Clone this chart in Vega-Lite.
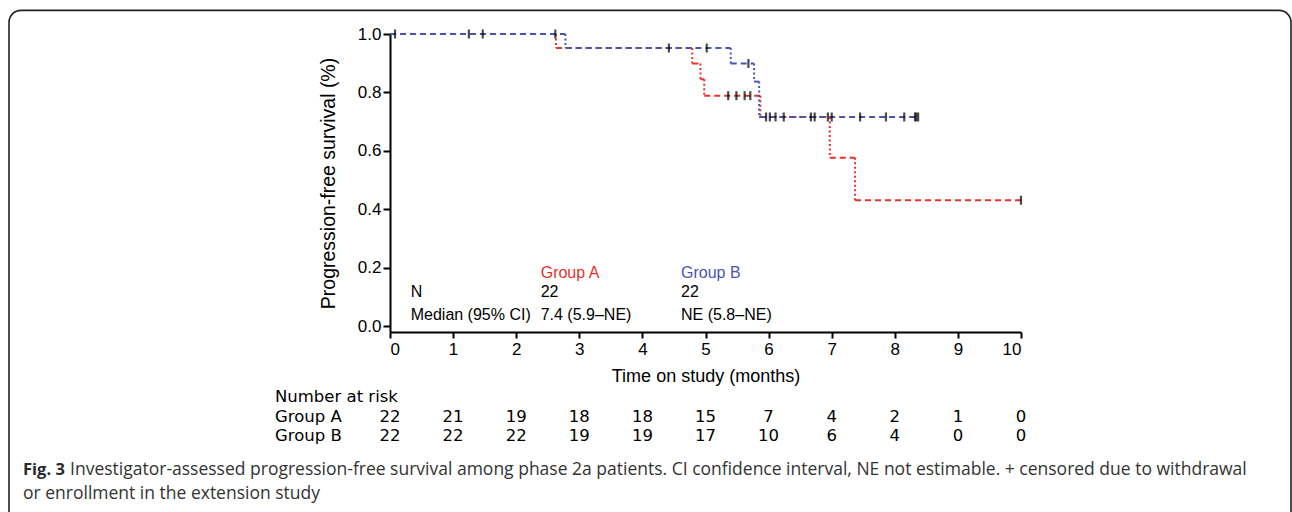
{
  "$schema": "https://vega.github.io/schema/vega-lite/v6.json",
  "width": 631,
  "height": 298,
  "autosize": {"type": "none"},
  "padding": {"left": 390, "top": 34, "right": 271, "bottom": 180},
  "background": "white",
  "config": {
    "view": {"stroke": null},
    "font": "Liberation Sans",
    "axis": {"grid": false, "domainColor": "black", "tickColor": "black", "domainWidth": 2, "tickWidth": 2, "labelColor": "black", "titleColor": "black", "labelFont": "Liberation Sans", "titleFont": "Liberation Sans", "titleFontWeight": "normal"}
  },
  "datasets": {
    "steps": [
      {"group": "Group A", "start": 0, "end": 2.63, "surv": 1.0},
      {"group": "Group A", "start": 2.63, "end": 4.79, "surv": 0.952},
      {"group": "Group A", "start": 4.79, "end": 4.92, "surv": 0.899},
      {"group": "Group A", "start": 4.92, "end": 4.98, "surv": 0.845},
      {"group": "Group A", "start": 4.98, "end": 5.87, "surv": 0.789},
      {"group": "Group A", "start": 5.87, "end": 6.97, "surv": 0.716},
      {"group": "Group A", "start": 6.97, "end": 7.37, "surv": 0.576},
      {"group": "Group A", "start": 7.37, "end": 10.0, "surv": 0.431},
      {"group": "Group B", "start": 0, "end": 2.78, "surv": 1.0},
      {"group": "Group B", "start": 2.78, "end": 5.40, "surv": 0.952},
      {"group": "Group B", "start": 5.40, "end": 5.77, "surv": 0.899},
      {"group": "Group B", "start": 5.77, "end": 5.85, "surv": 0.837},
      {"group": "Group B", "start": 5.85, "end": 8.37, "surv": 0.716}
    ],
    "censors": [
      {"group": "Group A", "time": 0.08, "surv": 1.0},
      {"group": "Group A", "time": 1.25, "surv": 1.0},
      {"group": "Group A", "time": 1.47, "surv": 1.0},
      {"group": "Group B", "time": 2.62, "surv": 1.0},
      {"group": "Group B", "time": 4.42, "surv": 0.952},
      {"group": "Group B", "time": 5.02, "surv": 0.952},
      {"group": "Group B", "time": 5.68, "surv": 0.899},
      {"group": "Group A", "time": 5.36, "surv": 0.789},
      {"group": "Group A", "time": 5.49, "surv": 0.789},
      {"group": "Group A", "time": 5.62, "surv": 0.789},
      {"group": "Group A", "time": 5.71, "surv": 0.789},
      {"group": "Group A", "time": 5.96, "surv": 0.716},
      {"group": "Group B", "time": 6.02, "surv": 0.716},
      {"group": "Group A", "time": 6.11, "surv": 0.716},
      {"group": "Group B", "time": 6.24, "surv": 0.716},
      {"group": "Group A", "time": 6.67, "surv": 0.716},
      {"group": "Group B", "time": 6.73, "surv": 0.716},
      {"group": "Group A", "time": 6.94, "surv": 0.716},
      {"group": "Group B", "time": 7.0, "surv": 0.716},
      {"group": "Group B", "time": 7.45, "surv": 0.716},
      {"group": "Group B", "time": 7.86, "surv": 0.716},
      {"group": "Group B", "time": 8.15, "surv": 0.716},
      {"group": "Group B", "time": 8.32, "surv": 0.716},
      {"group": "Group B", "time": 8.34, "surv": 0.716},
      {"group": "Group B", "time": 8.37, "surv": 0.716},
      {"group": "Group A", "time": 10.0, "surv": 0.431}
    ],
    "risk": [
      {"group": "Group A", "month": 0, "n": 22}, {"group": "Group A", "month": 1, "n": 21}, {"group": "Group A", "month": 2, "n": 19},
      {"group": "Group A", "month": 3, "n": 18}, {"group": "Group A", "month": 4, "n": 18}, {"group": "Group A", "month": 5, "n": 15},
      {"group": "Group A", "month": 6, "n": 7}, {"group": "Group A", "month": 7, "n": 4}, {"group": "Group A", "month": 8, "n": 2},
      {"group": "Group A", "month": 9, "n": 1}, {"group": "Group A", "month": 10, "n": 0},
      {"group": "Group B", "month": 0, "n": 22}, {"group": "Group B", "month": 1, "n": 22}, {"group": "Group B", "month": 2, "n": 22},
      {"group": "Group B", "month": 3, "n": 19}, {"group": "Group B", "month": 4, "n": 19}, {"group": "Group B", "month": 5, "n": 17},
      {"group": "Group B", "month": 6, "n": 10}, {"group": "Group B", "month": 7, "n": 6}, {"group": "Group B", "month": 8, "n": 4},
      {"group": "Group B", "month": 9, "n": 0}, {"group": "Group B", "month": 10, "n": 0}
    ]
  },
  "layer": [
    {
      "data": {"values": [{}]},
      "mark": {"type": "rect", "fill": null, "fillOpacity": 0, "stroke": "#222222", "strokeWidth": 1.6, "cornerRadius": 12, "clip": false},
      "encoding": {
        "x": {"datum": -6.038, "type": "quantitative", "scale": {"domain": [0, 10], "nice": false, "zero": false},
          "axis": {"values": [0, 0.5, 1, 1.5, 2, 2.5, 3, 3.5, 4, 4.5, 5, 5.5, 6, 6.5, 7, 7.5, 8, 8.5, 9, 9.5, 10],
            "labelExpr": "datum.value % 1 === 0 ? format(datum.value, 'd') : ''",
            "tickSize": {"condition": {"test": "datum.value % 1 === 0", "value": 6}, "value": 3},
            "labelFontSize": 17, "labelPadding": 3, "title": "Time on study (months)", "titleFontSize": 18, "titlePadding": 10}},
        "x2": {"datum": 14.279},
        "y": {"datum": 1.081, "type": "quantitative", "scale": {"domain": [-0.02, 1.0], "nice": false, "zero": false},
          "axis": {"values": [0, 0.1, 0.2, 0.3, 0.4, 0.5, 0.6, 0.7, 0.8, 0.9, 1.0],
            "labelExpr": "round(datum.value*10) % 2 === 0 ? format(datum.value, '.1f') : ''",
            "tickSize": {"condition": {"test": "round(datum.value*10) % 2 === 0", "value": 7}, "value": 4},
            "labelFontSize": 17, "labelPadding": 2, "title": "Progression-free survival (%)", "titleFontSize": 19.5, "titlePadding": 19}},
        "y2": {"datum": -0.732}
      }
    },
    {
      "data": {"name": "steps"},
      "mark": {"type": "rule", "strokeWidth": 2, "strokeDash": [6, 4]},
      "encoding": {
        "x": {"field": "start", "type": "quantitative"},
        "x2": {"field": "end"},
        "y": {"field": "surv", "type": "quantitative"},
        "color": {"field": "group", "type": "nominal", "scale": {"domain": ["Group A", "Group B"], "range": ["#e8312a", "#4a54b3"]}, "legend": null}
      }
    },
    {
      "data": {"name": "steps"},
      "transform": [
        {"window": [{"op": "lag", "field": "surv", "as": "prev"}], "groupby": ["group"], "sort": [{"field": "start"}]},
        {"filter": "datum.prev != null"}
      ],
      "mark": {"type": "rule", "strokeWidth": 2, "strokeDash": [2, 2.5]},
      "encoding": {
        "x": {"field": "start", "type": "quantitative"},
        "y": {"field": "prev", "type": "quantitative"},
        "y2": {"field": "surv"},
        "color": {"field": "group", "type": "nominal", "legend": null}
      }
    },
    {
      "data": {"name": "censors"},
      "mark": {"type": "tick", "orient": "vertical", "color": "black", "size": 9, "thickness": 2.2},
      "encoding": {
        "x": {"field": "time", "type": "quantitative"},
        "y": {"field": "surv", "type": "quantitative"}
      }
    },
    {
      "data": {"values": [{}]},
      "mark": {"type": "text", "text": "Group A", "color": "#e8312a", "align": "left", "baseline": "alphabetic", "fontSize": 16},
      "encoding": {"x": {"datum": 2.388}, "y": {"datum": 0.1658}}
    },
    {
      "data": {"values": [{}]},
      "mark": {"type": "text", "text": "Group B", "color": "#4a54b3", "align": "left", "baseline": "alphabetic", "fontSize": 16},
      "encoding": {"x": {"datum": 4.612}, "y": {"datum": 0.1658}}
    },
    {
      "data": {"values": [{}]},
      "mark": {"type": "text", "text": "N", "color": "black", "align": "left", "baseline": "alphabetic", "fontSize": 16},
      "encoding": {"x": {"datum": 0.328}, "y": {"datum": 0.0987}}
    },
    {
      "data": {"values": [{}]},
      "mark": {"type": "text", "text": "22", "color": "black", "align": "left", "baseline": "alphabetic", "fontSize": 16},
      "encoding": {"x": {"datum": 2.388}, "y": {"datum": 0.0987}}
    },
    {
      "data": {"values": [{}]},
      "mark": {"type": "text", "text": "22", "color": "black", "align": "left", "baseline": "alphabetic", "fontSize": 16},
      "encoding": {"x": {"datum": 4.612}, "y": {"datum": 0.0987}}
    },
    {
      "data": {"values": [{}]},
      "mark": {"type": "text", "text": "Median (95% CI)", "color": "black", "align": "left", "baseline": "alphabetic", "fontSize": 16},
      "encoding": {"x": {"datum": 0.328}, "y": {"datum": 0.021}}
    },
    {
      "data": {"values": [{}]},
      "mark": {"type": "text", "text": "7.4 (5.9–NE)", "color": "black", "align": "left", "baseline": "alphabetic", "fontSize": 16},
      "encoding": {"x": {"datum": 2.388}, "y": {"datum": 0.021}}
    },
    {
      "data": {"values": [{}]},
      "mark": {"type": "text", "text": "NE (5.8–NE)", "color": "black", "align": "left", "baseline": "alphabetic", "fontSize": 16},
      "encoding": {"x": {"datum": 4.612}, "y": {"datum": 0.021}}
    },
    {
      "data": {"values": [{}]},
      "mark": {"type": "text", "text": "Number at risk", "color": "black", "align": "left", "baseline": "alphabetic", "fontSize": 16.5, "font": "DejaVu Sans"},
      "encoding": {"x": {"datum": -1.8225}, "y": {"datum": -0.2597}}
    },
    {
      "data": {"values": [{}]},
      "mark": {"type": "text", "text": "Group A", "color": "black", "align": "left", "baseline": "alphabetic", "fontSize": 16.5, "font": "DejaVu Sans"},
      "encoding": {"x": {"datum": -1.8225}, "y": {"datum": -0.3264}}
    },
    {
      "data": {"values": [{}]},
      "mark": {"type": "text", "text": "Group B", "color": "black", "align": "left", "baseline": "alphabetic", "fontSize": 16.5, "font": "DejaVu Sans"},
      "encoding": {"x": {"datum": -1.8225}, "y": {"datum": -0.3932}}
    },
    {
      "data": {"name": "risk"},
      "transform": [{"filter": "datum.group === 'Group A'"}],
      "mark": {"type": "text", "color": "black", "align": "center", "baseline": "alphabetic", "fontSize": 16.5, "font": "DejaVu Sans"},
      "encoding": {"x": {"field": "month", "type": "quantitative"}, "y": {"datum": -0.3264}, "text": {"field": "n"}}
    },
    {
      "data": {"name": "risk"},
      "transform": [{"filter": "datum.group === 'Group B'"}],
      "mark": {"type": "text", "color": "black", "align": "center", "baseline": "alphabetic", "fontSize": 16.5, "font": "DejaVu Sans"},
      "encoding": {"x": {"field": "month", "type": "quantitative"}, "y": {"datum": -0.3932}, "text": {"field": "n"}}
    },
    {
      "data": {"values": [{}]},
      "mark": {"type": "text", "text": "Fig. 3", "color": "#2b2b2b", "align": "left", "baseline": "alphabetic", "fontSize": 16.5, "fontWeight": "bold", "font": "Open Sans"},
      "encoding": {"x": {"datum": -5.816}, "y": {"datum": -0.5102}}
    },
    {
      "data": {"values": [{}]},
      "mark": {"type": "text", "text": "Investigator-assessed progression-free survival among phase 2a patients. CI confidence interval, NE not estimable. + censored due to withdrawal", "color": "#333333", "align": "left", "baseline": "alphabetic", "fontSize": 17.5, "font": "Open Sans"},
      "encoding": {"x": {"datum": -5.07}, "y": {"datum": -0.5102}}
    },
    {
      "data": {"values": [{}]},
      "mark": {"type": "text", "text": "or enrollment in the extension study", "color": "#333333", "align": "left", "baseline": "alphabetic", "fontSize": 17.5, "font": "Open Sans"},
      "encoding": {"x": {"datum": -5.816}, "y": {"datum": -0.5918}}
    }
  ]
}
